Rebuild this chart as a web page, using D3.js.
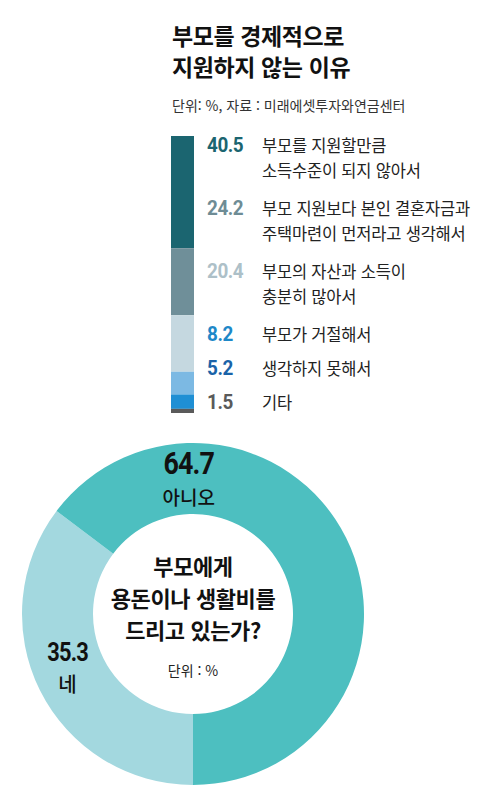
<!DOCTYPE html>
<html lang="ko">
<head>
<meta charset="utf-8">
<script src="https://cdn.jsdelivr.net/npm/d3@7"></script>
<style>
  body { margin: 0; background: #fff; }
  text { font-family: "Noto Sans CJK KR", "Noto Sans", sans-serif; }
  .num { font-family: Roboto, "Noto Sans", sans-serif; font-weight: 700; }
</style>
</head>
<body>
<svg id="chart" width="500" height="804"></svg>
<script>
"use strict";

// 데이터: 부모를 경제적으로 지원하지 않는 이유
const reasons = [
  ["부모를 지원할만큼", "소득수준이 되지 않아서"],
  ["부모 지원보다 본인 결혼자금과", "주택마련이 먼저라고 생각해서"],
  ["부모의 자산과 소득이", "충분히 많아서"],
  ["부모가 거절해서"],
  ["생각하지 못해서"],
  ["기타"],
];
const reasonValues = [40.5, 24.2, 20.4, 8.2, 5.2, 1.5];

// 데이터: 부모에게 용돈이나 생활비를 드리고 있는가?
const answers = ["네", "아니오"];
const answerValues = [35.3, 64.7];

const titleLines = ["부모를 경제적으로", "지원하지 않는 이유"];
const subtitle = "단위: %, 자료 : 미래에셋투자와연금센터";
const centerLines = ["부모에게", "용돈이나 생활비를", "드리고 있는가?"];
const centerUnit = "단위 : %";

// 색상
const barColors = ["#1b6570", "#6f8f99", "#c5d8e0", "#7cb9e3", "#1f8fd4", "#5a5a5a"];
const numColors = ["#1b6570", "#6e8c95", "#adc0c8", "#1e88c8", "#1a63a8", "#5a5a5a"];
const pieColors = ["#a3d8df", "#4dbfc0"];

const svg = d3.select("#chart");

//////////////////////////////////////////////////////////// 제목
const left = 172;
svg.selectAll(".title")
  .data(titleLines)
  .join("text")
  .attr("class", "title")
  .attr("x", left)
  .attr("y", (d, i) => 45 + i * 31)
  .attr("font-size", "23px")
  .attr("font-weight", 700)
  .attr("letter-spacing", "-0.4px")
  .attr("fill", "#111")
  .text((d) => d);

svg.append("text")
  .attr("x", left)
  .attr("y", 111)
  .attr("font-size", "14px")
  .attr("fill", "#333")
  .text(subtitle);

//////////////////////////////////////////////////////////// 누적 막대
const barX = 171;
const barW = 23;
const y = d3.scaleLinear()
  .domain([0, d3.sum(reasonValues)])
  .range([136, 413]);

const stacked = [];
reasonValues.reduce((acc, v, i) => {
  stacked.push({ i, y0: acc, y1: acc + v });
  return acc + v;
}, 0);

svg.selectAll(".seg")
  .data(stacked)
  .join("rect")
  .attr("class", "seg")
  .attr("x", barX)
  .attr("width", barW)
  .attr("y", (d) => y(d.y0))
  .attr("height", (d) => y(d.y1) - y(d.y0))
  .attr("fill", (d) => barColors[d.i]);

// 범례 (숫자 + 설명)
const lineH = 25;
let cursor = 152;
const legendY = reasons.map((lines) => {
  const at = cursor;
  cursor += lines.length * 29 + 5;
  return at;
});

const legend = svg.selectAll(".item")
  .data(reasons)
  .join("g")
  .attr("class", "item")
  .attr("transform", (d, i) => `translate(0,${legendY[i]})`);

legend.append("text")
  .attr("class", "num")
  .attr("transform", "translate(207,0) scale(0.9,1)")
  .attr("font-size", "21px")
  .attr("letter-spacing", "-0.5px")
  .attr("fill", (d, i) => numColors[i])
  .text((d, i) => reasonValues[i].toFixed(1));

legend.selectAll("text.desc")
  .data((d) => d)
  .join("text")
  .attr("class", "desc")
  .attr("x", 262)
  .attr("y", (d, j) => j * lineH)
  .attr("font-size", "16.5px")
  .attr("letter-spacing", "-0.2px")
  .attr("fill", "#222")
  .text((d) => d);

//////////////////////////////////////////////////////////// 도넛
const cx = 193;
const cy = 614;
const outerR = 171;
const innerR = 100;

const pie = d3.pie()
  .sort(null)
  .startAngle(Math.PI)
  .endAngle(Math.PI * 3);

const arc = d3.arc().innerRadius(innerR).outerRadius(outerR);

const donut = svg.append("g").attr("transform", `translate(${cx},${cy})`);

const arcs = pie(answerValues);
donut.selectAll("path")
  .data(arcs)
  .join("path")
  .attr("d", arc)
  .attr("fill", (d, i) => pieColors[i]);

// 라벨 위치 (각도, 반지름, 글자 크기, 아래 줄 간격)
const labelSpots = [
  { angle: -1.93, r: 134, size: 26, sub: 20, gap: 31 },
  { angle: -0.03, r: 140, size: 32, sub: 19, gap: 31 },
];

const labels = donut.selectAll(".plabel")
  .data(arcs)
  .join("g")
  .attr("class", "plabel")
  .attr("transform", (d, i) => {
    const [px, py] = d3.pointRadial(labelSpots[i].angle, labelSpots[i].r);
    return `translate(${px},${py})`;
  });

labels.append("text")
  .attr("class", "num")
  .attr("text-anchor", "middle")
  .attr("transform", "scale(0.84,1)")
  .attr("font-size", (d, i) => `${labelSpots[i].size}px`)
  .attr("letter-spacing", "-1px")
  .attr("fill", "#111")
  .text((d, i) => answerValues[i].toFixed(1));

labels.append("text")
  .attr("text-anchor", "middle")
  .attr("y", (d, i) => labelSpots[i].gap)
  .attr("font-size", (d, i) => `${labelSpots[i].sub}px`)
  .attr("font-weight", 500)
  .attr("fill", "#111")
  .text((d, i) => answers[i]);

// 가운데 질문
donut.selectAll(".q")
  .data(centerLines)
  .join("text")
  .attr("class", "q")
  .attr("text-anchor", "middle")
  .attr("y", (d, i) => -39 + i * 32)
  .attr("font-size", "22px")
  .attr("font-weight", 700)
  .attr("letter-spacing", "-0.4px")
  .attr("fill", "#111")
  .text((d) => d);

donut.append("text")
  .attr("text-anchor", "middle")
  .attr("y", 62)
  .attr("font-size", "14px")
  .attr("fill", "#222")
  .text(centerUnit);
</script>
</body>
</html>
